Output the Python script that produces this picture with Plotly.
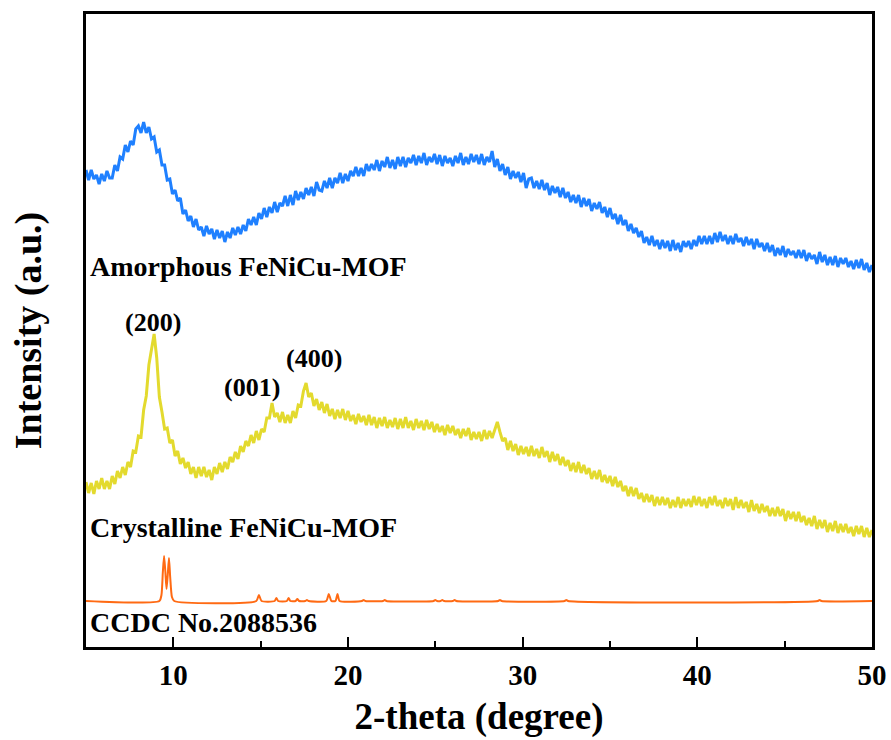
import numpy as np
import plotly.graph_objects as go

# 2-theta sampling grid for the measured patterns (5 to 50 deg, 0.15 deg step)
two_theta = np.round(5 + 0.15 * np.arange(301), 2)

amorphous = [
    477, 467, 477, 468, 472, 463, 473, 466, 476, 469,
    469, 482, 476, 490, 488, 502, 495, 506, 502, 518,
    521, 514, 525, 514, 520, 508, 510, 495, 497, 482,
    482, 467, 468, 453, 457, 446, 449, 433, 437, 426,
    431, 420, 428, 417, 420, 411, 421, 413, 418, 408,
    417, 409, 416, 405, 415, 409, 419, 412, 420, 413,
    422, 416, 428, 422, 430, 422, 434, 428, 439, 430,
    440, 434, 445, 435, 444, 441, 451, 441, 452, 442,
    456, 447, 455, 448, 459, 452, 460, 451, 465, 457,
    456, 466, 459, 469, 459, 469, 464, 474, 464, 473,
    466, 476, 471, 480, 471, 479, 471, 483, 476, 483,
    477, 487, 476, 486, 480, 490, 479, 487, 478, 490,
    481, 490, 480, 489, 484, 492, 482, 491, 484, 494,
    482, 490, 485, 493, 483, 492, 481, 491, 484, 489,
    481, 491, 484, 494, 482, 490, 483, 493, 485, 492,
    483, 493, 482, 490, 485, 496, 480, 488, 476, 483,
    472, 480, 468, 476, 469, 475, 465, 474, 459, 468,
    469, 459, 466, 458, 467, 457, 464, 452, 461, 454,
    460, 450, 459, 449, 455, 445, 452, 444, 452, 440,
    449, 441, 448, 436, 444, 438, 445, 434, 440, 430,
    439, 428, 433, 423, 432, 422, 427, 416, 423, 414,
    419, 410, 416, 404, 410, 402, 411, 401, 407, 398,
    407, 399, 406, 396, 407, 397, 404, 395, 406, 400,
    406, 398, 407, 401, 411, 403, 411, 403, 411, 403,
    414, 405, 415, 406, 412, 403, 411, 403, 413, 405,
    409, 401, 410, 402, 408, 398, 408, 400, 404, 396,
    404, 395, 402, 391, 399, 392, 401, 390, 398, 392,
    396, 389, 397, 389, 397, 386, 394, 388, 392, 383,
    395, 385, 392, 382, 390, 382, 391, 380, 389, 383,
    389, 380, 386, 378, 387, 379, 388, 377, 384, 375,
    382,
]

crystalline = [
    165, 154, 164, 153, 166, 158, 169, 158, 166, 158,
    171, 163, 176, 169, 180, 172, 185, 180, 196, 195,
    211, 210, 237, 251, 282, 297, 313, 289, 250, 235,
    218, 219, 204, 207, 191, 196, 183, 189, 179, 185,
    173, 180, 169, 180, 171, 180, 170, 177, 167, 180,
    173, 184, 175, 185, 178, 190, 185, 195, 188, 201,
    195, 206, 201, 212, 204, 216, 207, 218, 215, 229,
    229, 244, 230, 234, 225, 235, 224, 232, 224, 236,
    229, 242, 241, 256, 264, 250, 254, 241, 248, 237,
    245, 234, 243, 231, 238, 228, 237, 229, 238, 227,
    236, 226, 232, 223, 233, 225, 231, 222, 232, 222,
    230, 219, 229, 221, 230, 219, 227, 220, 229, 218,
    228, 219, 230, 219, 226, 217, 228, 219, 226, 217,
    227, 218, 225, 215, 223, 215, 221, 212, 222, 214,
    221, 212, 218, 209, 218, 211, 219, 207, 215, 208,
    215, 206, 217, 208, 216, 209, 218, 225, 215, 206,
    209, 197, 206, 196, 203, 192, 201, 193, 200, 191,
    201, 191, 198, 189, 200, 190, 196, 185, 195, 186,
    193, 182, 190, 181, 187, 176, 184, 175, 185, 174,
    182, 173, 179, 168, 176, 168, 177, 165, 172, 164,
    171, 161, 170, 160, 166, 156, 161, 151, 160, 151,
    159, 148, 154, 145, 153, 145, 152, 141, 150, 142,
    150, 142, 149, 139, 147, 140, 150, 139, 148, 141,
    148, 140, 151, 142, 150, 141, 148, 139, 150, 142,
    151, 141, 147, 139, 149, 141, 148, 137, 150, 139,
    147, 139, 145, 135, 147, 136, 143, 134, 143, 135,
    141, 131, 139, 131, 140, 131, 138, 126, 136, 128,
    135, 126, 135, 125, 131, 122, 129, 121, 131, 118,
    127, 119, 127, 115, 124, 116, 126, 114, 123, 115,
    123, 114, 120, 111, 121, 113, 121, 110, 119, 110,
    117,
]

ccdc_theta = [
    5.0, 9.20, 9.32, 9.40, 9.47, 9.54, 9.61, 9.68, 9.75, 9.82, 9.92, 10.05,
    14.75, 14.90, 15.05, 15.80, 15.90, 16.00, 16.50, 16.60, 16.70,
    17.00, 17.10, 17.20, 17.55, 17.65, 17.75, 18.75, 18.90, 19.05,
    19.28, 19.40, 19.52, 20.80, 20.90, 21.00, 22.00, 22.10, 22.20,
    24.90, 25.00, 25.10, 25.30, 25.40, 25.50, 26.00, 26.10, 26.20,
    28.60, 28.70, 28.80, 32.4, 32.5, 32.6, 46.9, 47.0, 47.1, 50.0,
]
ccdc = [
    46, 46, 52, 75, 91, 76, 58, 72, 89, 70, 50, 46,
    46, 52, 46, 46, 49, 46, 46, 49, 46,
    46, 48, 46, 46, 47, 46, 46, 53, 46,
    46, 53, 46, 46, 47, 46, 46, 47, 46,
    46, 47, 46, 46, 47, 46, 46, 47, 46,
    46, 47, 46, 46, 47, 46, 46, 47, 46, 46,
]

x_ticks = [10, 20, 30, 40, 50]

labels = [
    ("Amorphous FeNiCu-MOF", 5.1, 381, "left"),
    ("Crystalline FeNiCu-MOF", 5.1, 120, "left"),
    ("CCDC No.2088536", 5.1, 25, "left"),
    ("(200)", 8.84, 325, "center"),
    ("(001)", 14.5, 260, "center"),
    ("(400)", 18.05, 289, "center"),
]

FONT = "Liberation Serif, Times New Roman, serif"

fig = go.Figure()
fig.add_trace(go.Scatter(x=two_theta, y=amorphous, mode="lines",
                         line=dict(color="#1F80FF", width=3), showlegend=False))
fig.add_trace(go.Scatter(x=two_theta, y=crystalline, mode="lines",
                         line=dict(color="#E3DA2E", width=3), showlegend=False))
fig.add_trace(go.Scatter(x=ccdc_theta, y=ccdc, mode="lines",
                         line=dict(color="#FF6A13", width=2, shape="spline", smoothing=0.6),
                         showlegend=False))

for text, x, y, anchor in labels:
    size = 28 if anchor == "left" else 26
    fig.add_annotation(x=x, y=y, text=text, showarrow=False, xanchor=anchor,
                       yanchor="middle",
                       font=dict(family=FONT, size=size, color="black", weight="bold"))

fig.update_layout(
    width=891, height=740,
    margin=dict(l=86, r=19, t=14, b=93, autoexpand=False),
    paper_bgcolor="white", plot_bgcolor="white",
    font=dict(family=FONT, color="black"),
    xaxis=dict(
        range=[5, 50], tickvals=x_ticks, ticks="inside", ticklen=10, tickwidth=2,
        automargin=False,
        tickcolor="black", showline=True, linewidth=3, linecolor="black", mirror=True,
        showgrid=False, zeroline=False,
        minor=dict(tickvals=[15, 25, 35, 45], ticks="inside", ticklen=6, tickwidth=2,
                   tickcolor="black", showgrid=False),
        tickfont=dict(family=FONT, size=29, color="black", weight="bold"),
        title=dict(text="2-theta (degree)", standoff=14,
                   font=dict(family=FONT, size=37, color="black", weight="bold")),
    ),
    yaxis=dict(
        range=[0, 633], showticklabels=False, ticks="", showline=True, linewidth=3,
        automargin=False,
        linecolor="black", mirror=True, showgrid=False, zeroline=False,
        title=dict(text="Intensity (a.u.)", standoff=30,
                   font=dict(family=FONT, size=38, color="black", weight="bold")),
    ),
)

fig.write_html("out.html")
